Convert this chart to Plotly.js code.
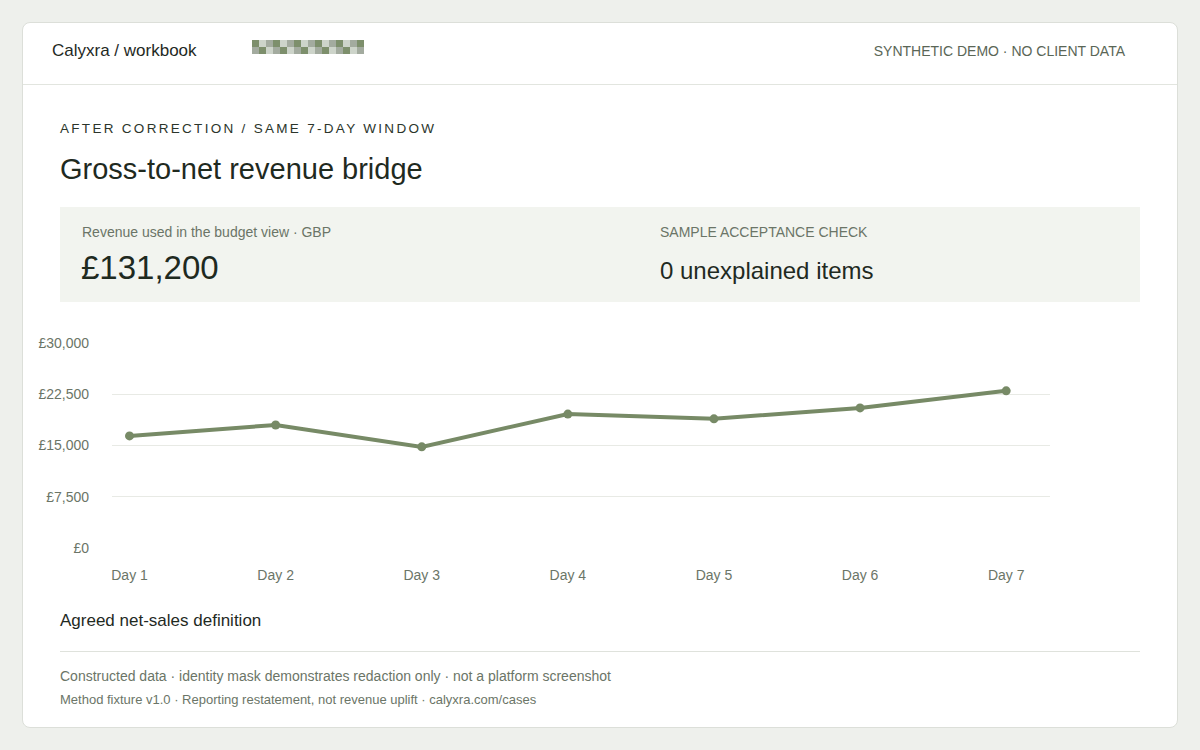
<!DOCTYPE html>
<html>
<head>
<meta charset="utf-8">
<script src="https://cdn.plot.ly/plotly-3.0.1.min.js"></script>
<style>
  html, body { margin: 0; padding: 0; }
  body { width: 1200px; height: 750px; background: #eef0ec; font-family: "Liberation Sans", Arial, sans-serif; position: relative; overflow: hidden; }
  .card { position: absolute; left: 22px; top: 22px; width: 1154px; height: 704px; background: #fff; border: 1px solid #dcdfd9; border-radius: 8px; }
  .topbar { position: absolute; left: 0; top: 0; width: 1154px; height: 61px; border-bottom: 1px solid #e2e5df; }
  .brand { position: absolute; left: 29px; top: 18px; font-size: 17px; color: #1f2a1f; }
  .mask { position: absolute; left: 229px; top: 17px; width: 112px; height: 14px; }
  .mask span { position: absolute; width: 7px; height: 7px; }
  .demo { position: absolute; right: 52px; top: 20px; font-size: 14px; color: #5a6656; }
  .eyebrow { position: absolute; left: 37px; top: 98px; font-size: 13.5px; letter-spacing: 2.3px; color: #2b352b; }
  .title { position: absolute; left: 37px; top: 130px; font-size: 29px; color: #1f2a1f; }
  .panel { position: absolute; left: 37px; top: 184px; width: 1080px; height: 95px; background: #f2f4ef; }
  .lbl { position: absolute; font-size: 14px; color: #6b7567; }
  .big { position: absolute; font-size: 33px; color: #1f2a1f; }
  .mid { position: absolute; font-size: 24px; color: #1f2a1f; }
  #chart { position: absolute; left: 7px; top: 297px; width: 1050px; height: 280px; }
  .def { position: absolute; left: 37px; top: 588px; font-size: 17px; color: #1f2a1f; }
  .rule { position: absolute; left: 37px; top: 628px; width: 1080px; height: 0; border-top: 1px solid #dfe2dc; }
  .foot1 { position: absolute; left: 37px; top: 645px; font-size: 14px; color: #6b7567; }
  .foot2 { position: absolute; left: 37px; top: 669px; font-size: 13px; color: #6b7567; }
</style>
</head>
<body>
<div class="card">
  <div class="topbar">
    <div class="brand">Calyxra / workbook</div>
    <div class="mask" id="mask"></div>
    <div class="demo">SYNTHETIC DEMO · NO CLIENT DATA</div>
  </div>
  <div class="eyebrow">AFTER CORRECTION / SAME 7-DAY WINDOW</div>
  <div class="title">Gross-to-net revenue bridge</div>
  <div class="panel">
    <div class="lbl" style="left:22px; top:17px;">Revenue used in the budget view · GBP</div>
    <div class="big" style="left:21px; top:42px;">£131,200</div>
    <div class="lbl" style="left:600px; top:17px;">SAMPLE ACCEPTANCE CHECK</div>
    <div class="mid" style="left:600px; top:50px;">0 unexplained items</div>
  </div>
  <div id="chart"></div>
  <div class="def">Agreed net-sales definition</div>
  <div class="rule"></div>
  <div class="foot1">Constructed data · identity mask demonstrates redaction only · not a platform screenshot</div>
  <div class="foot2">Method fixture v1.0 · Reporting restatement, not revenue uplift · calyxra.com/cases</div>
</div>
<script>
var days = ["Day 1", "Day 2", "Day 3", "Day 4", "Day 5", "Day 6", "Day 7"];
var netRevenue = [16400, 18000, 14800, 19600, 18900, 20500, 23000];
var yTicks = [0, 7500, 15000, 22500, 30000];
var yTickLabels = ["£0", "£7,500", "£15,000", "£22,500", "£30,000"];

// redaction mask squares
var maskColours = ["#7d8f6c", "#cdd4ca", "#a3ab9f"];
var mask = document.getElementById('mask');
for (var row = 0; row < 2; row++) {
    for (var col = 0; col < 16; col++) {
        var sq = document.createElement('span');
        sq.style.left = (col * 7) + 'px';
        sq.style.top = (row * 7) + 'px';
        sq.style.background = maskColours[(col + row * 2) % 3];
        mask.appendChild(sq);
    }
}

var trace = {
    x: days,
    y: netRevenue,
    type: 'scatter',
    mode: 'lines+markers',
    line: { color: '#778a66', width: 4 },
    marker: { color: '#778a66', size: 9 },
    hoverinfo: 'skip'
};

var layout = {
    width: 1050,
    height: 280,
    margin: { l: 82, r: 30, t: 23, b: 52 },
    paper_bgcolor: 'rgba(0,0,0,0)',
    plot_bgcolor: 'rgba(0,0,0,0)',
    showlegend: false,
    font: { family: '"Liberation Sans", Arial, sans-serif', size: 14, color: '#6b7567' },
    xaxis: {
        type: 'category',
        range: [-0.12, 6.3],
        showgrid: false,
        zeroline: false,
        showline: false,
        ticks: '',
        ticklabelstandoff: 17,
        tickfont: { size: 14, color: '#6b7567' }
    },
    yaxis: {
        range: [0, 30000],
        tickvals: yTicks,
        ticktext: yTickLabels,
        showgrid: true,
        gridcolor: '#e8eae5',
        gridwidth: 1,
        zeroline: false,
        showline: false,
        ticks: '',
        ticklabelstandoff: 22,
        tickfont: { size: 14, color: '#6b7567' }
    }
};

Plotly.newPlot('chart', [trace], layout, { displayModeBar: false, staticPlot: true });
</script>
</body>
</html>
